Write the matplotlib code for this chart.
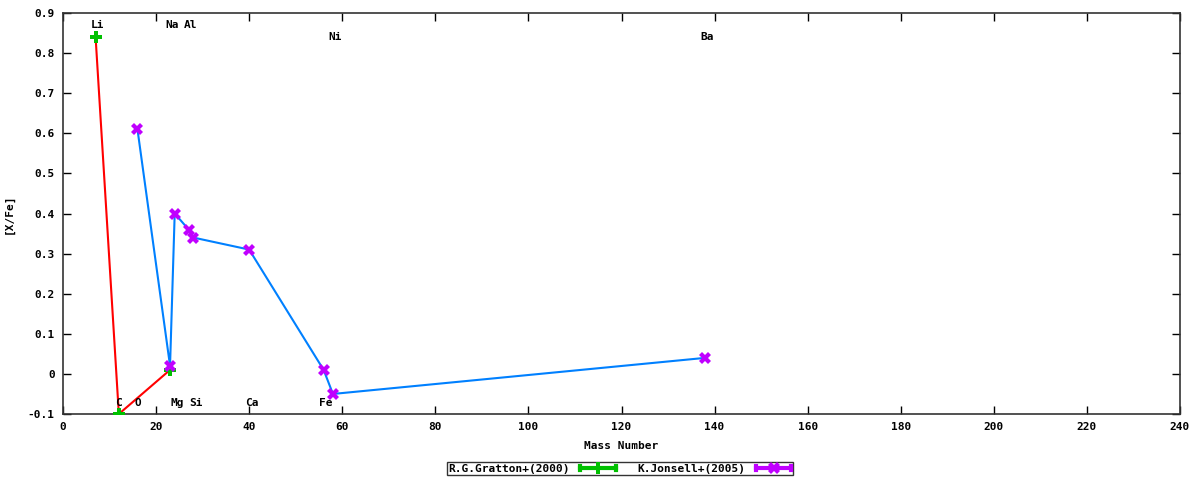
import matplotlib
matplotlib.use("Agg")
import matplotlib.pyplot as plt
from matplotlib.legend_handler import HandlerBase
from matplotlib.lines import Line2D
from matplotlib.ticker import FuncFormatter, MultipleLocator

# Data
gratton_mass = [7, 12, 23]
gratton_val = [0.84, -0.10, 0.01]
jonsell_mass = [16, 23, 24, 27, 28, 40, 56, 58, 138]
jonsell_val = [0.61, 0.02, 0.40, 0.36, 0.34, 0.31, 0.01, -0.05, 0.04]

labels_top = ["Li", "Na", "Al"]
labels_top_x = [7.5, 23.5, 27.5]
labels_mid = ["Ni", "Ba"]
labels_mid_x = [58.5, 138.5]
labels_bot = ["C", "O", "Mg", "Si", "Ca", "Fe"]
labels_bot_x = [12, 16, 24.5, 28.5, 40.5, 56.5]

RED = "#ff0000"
GREEN = "#00c000"
BLUE = "#0080ff"
MAGENTA = "#c000ff"

plt.rcParams['font.family'] = ['DejaVu Sans Mono']
plt.rcParams['font.weight'] = 'bold'
FS = 8

fig = plt.figure(figsize=(12, 4.8), dpi=100)
ax = fig.add_axes([63/1200, 1-414/480, (1180-63)/1200, (414-13)/480])

ax.plot(gratton_mass, gratton_val, color=RED, lw=1.5, zorder=2)
ax.plot(jonsell_mass, jonsell_val, color=BLUE, lw=1.5, zorder=2)
ax.errorbar(gratton_mass, gratton_val, yerr=[0]*len(gratton_val), fmt='P', color=GREEN,
            ms=8, mew=0, capsize=3, zorder=3)
ax.errorbar(jonsell_mass, jonsell_val, yerr=[0]*len(jonsell_val), fmt='X', color=MAGENTA,
            ms=9, mew=0, capsize=3, zorder=4)

for t, x in zip(labels_top, labels_top_x):
    ax.text(x, 0.87, t, ha='center', va='center', fontsize=FS, fontweight='bold')
for t, x in zip(labels_mid, labels_mid_x):
    ax.text(x, 0.84, t, ha='center', va='center', fontsize=FS, fontweight='bold')
for t, x in zip(labels_bot, labels_bot_x):
    ax.text(x, -0.072, t, ha='center', va='center', fontsize=FS, fontweight='bold')

ax.set_xlim(0, 240)
ax.set_ylim(-0.1, 0.9)
ax.xaxis.set_major_locator(MultipleLocator(20))
ax.yaxis.set_major_locator(MultipleLocator(0.1))
ax.yaxis.set_major_formatter(FuncFormatter(lambda v, p: "%g" % round(v, 2)))
ax.tick_params(direction='in', top=True, right=True, length=6, width=1,
               labelsize=FS, pad=6)
for s in ax.spines.values():
    s.set_linewidth(1.2)
    s.set_color('#333333')

ax.set_xlabel("Mass Number", fontsize=FS, fontweight='bold', labelpad=6)
ax.set_ylabel("[X/Fe]", fontsize=FS, fontweight='bold', labelpad=10)


class ErrHandler(HandlerBase):
    def __init__(self, color, marker, ms):
        super().__init__()
        self.color = color
        self.marker = marker
        self.ms = ms

    def create_artists(self, legend, orig_handle, xdescent, ydescent, width, height, fontsize, trans):
        y = height / 2 - ydescent
        x0, x1 = -xdescent, -xdescent + width
        h = height * 0.5
        arts = [
            Line2D([x0, x1], [y, y], color=self.color, lw=3, transform=trans),
            Line2D([x0, x0], [y - h / 2, y + h / 2], color=self.color, lw=3, transform=trans),
            Line2D([x1, x1], [y - h / 2, y + h / 2], color=self.color, lw=3, transform=trans),
            Line2D([(x0 + x1) / 2], [y], marker=self.marker, ms=self.ms, mew=0,
                   color=self.color, transform=trans),
        ]
        return arts


h1 = Line2D([], [], color=GREEN)
h2 = Line2D([], [], color=MAGENTA)
leg = fig.legend([h1, h2], ["R.G.Gratton+(2000)", "K.Jonsell+(2005)"],
                 handler_map={h1: ErrHandler(GREEN, 'P', 8), h2: ErrHandler(MAGENTA, 'X', 9)},
                 loc='center', bbox_to_anchor=(620/1200, 1-468.5/480), ncol=2,
                 markerfirst=False, frameon=True, fancybox=False, fontsize=FS,
                 borderpad=0.15, handlelength=3.2, columnspacing=2.0, handletextpad=0.9,
                 borderaxespad=0)
leg.get_frame().set_edgecolor('black')
leg.get_frame().set_linewidth(1.0)

fig.savefig("out.png", dpi=100)
